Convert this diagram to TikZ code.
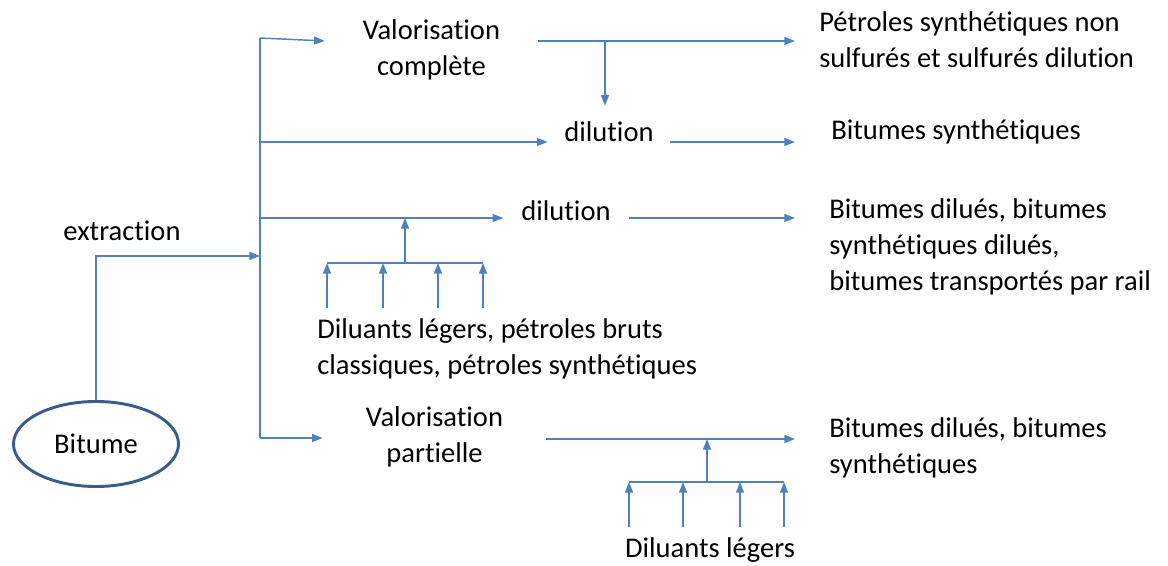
\documentclass[tikz,border=0pt]{standalone}
\usepackage{fontspec}
\setmainfont[Ligatures=NoCommon]{Carlito}
\usepackage{tikz}
\usetikzlibrary{arrows.meta,shapes.geometric}
\definecolor{lineblue}{HTML}{4F81BD}
\definecolor{ringblue}{HTML}{385D8A}

\begin{document}
\begin{tikzpicture}[x=0.75pt,y=-0.75pt,>={Triangle[length=8pt,width=6pt]},
  font=\fontsize{21.4}{27}\selectfont,
  plain line/.style={draw=lineblue,line width=1.1pt},
  flow line/.style={plain line,->},
  stage node/.style={inner sep=0pt,align=center},
  result node/.style={anchor=west,inner ysep=0pt,align=left}]

  \useasboundingbox (0,0) rectangle (1168,566);

  % source
  \node[ellipse,draw=ringblue,line width=2.2pt,minimum width=165*0.75pt,minimum height=85*0.75pt] (bit) at (96,444) {Bitume};
  \node (extr) at (122,231) {extraction};

  % treatment steps
  \node[stage node,minimum width=213*0.75pt] (valc) at (431.5,50) {Valorisation\\complète};
  \node[stage node,minimum width=122*0.75pt,minimum height=52*0.75pt] (dil1) at (609,132) {dilution};
  \node[stage node,minimum width=125*0.75pt] (dil2) at (566,211) {dilution};
  \node[stage node,minimum width=223*0.75pt] (valp) at (434.5,437) {Valorisation\\partielle};

  % products
  \node[result node,inner xsep=24*0.75pt] (res1) at (795,39.5) {Pétroles synthétiques non\\sulfurés et sulfurés dilution};
  \node[result node,inner xsep=36*0.75pt] (res2) at (795,132) {Bitumes synthétiques};
  \node[result node,inner xsep=34*0.75pt] (res3) at (795,247) {Bitumes dilués, bitumes\\synthétiques dilués,\\bitumes transportés par rail};
  \node[result node,inner xsep=34*0.75pt] (res4) at (795,448) {Bitumes dilués, bitumes\\synthétiques};

  % diluents
  \node[result node,inner sep=0pt] (dl1) at (317,348.5) {Diluants légers, pétroles bruts\\classiques, pétroles synthétiques};
  \node[stage node] (dl2) at (710,550) {Diluants légers};

  % trunk and branches
  \coordinate (ext) at (260,256);
  \coordinate (t1) at (260,38);
  \coordinate (t2) at (260,142);
  \coordinate (t3) at (260,218);
  \coordinate (t4) at (260,438);
  \coordinate (r1) at (605,41);
  \coordinate (r4) at (707,439);

  \draw[flow line] (bit.north) |- (ext);
  \draw[plain line] (t1) -- (t4);

  \draw[flow line] (t1) -- (valc.west |- r1);
  \draw[flow line] (valc.east |- r1) -- (res1.west |- r1);
  \draw[flow line] (r1) -- (r1 |- dil1.north);

  \draw[flow line] (t2) -- (dil1.west |- t2);
  \draw[flow line] (dil1.east |- t2) -- (res2.west |- t2);

  \draw[flow line] (t3) -- (dil2.west |- t3);
  \draw[flow line] (dil2.east |- t3) -- (res3.west |- t3);

  \draw[flow line] (t4) -- (valp.west |- t4);
  \draw[flow line] (valp.east |- r4) -- (res4.west |- r4);

  % diluent collectors
  \coordinate (m1) at (405,263);
  \draw[flow line] (m1) -- (m1 |- t3);
  \draw[plain line] (327,263) -- (483,263);
  \foreach \x in {327,383,438,483}
    \draw[flow line] (\x,308) -- (\x,263);

  \coordinate (m2) at (707,482);
  \draw[flow line] (m2) -- (r4);
  \draw[plain line] (629,482) -- (784,482);
  \foreach \x in {629,683,740,784}
    \draw[flow line] (\x,527) -- (\x,482);

\end{tikzpicture}
\end{document}
